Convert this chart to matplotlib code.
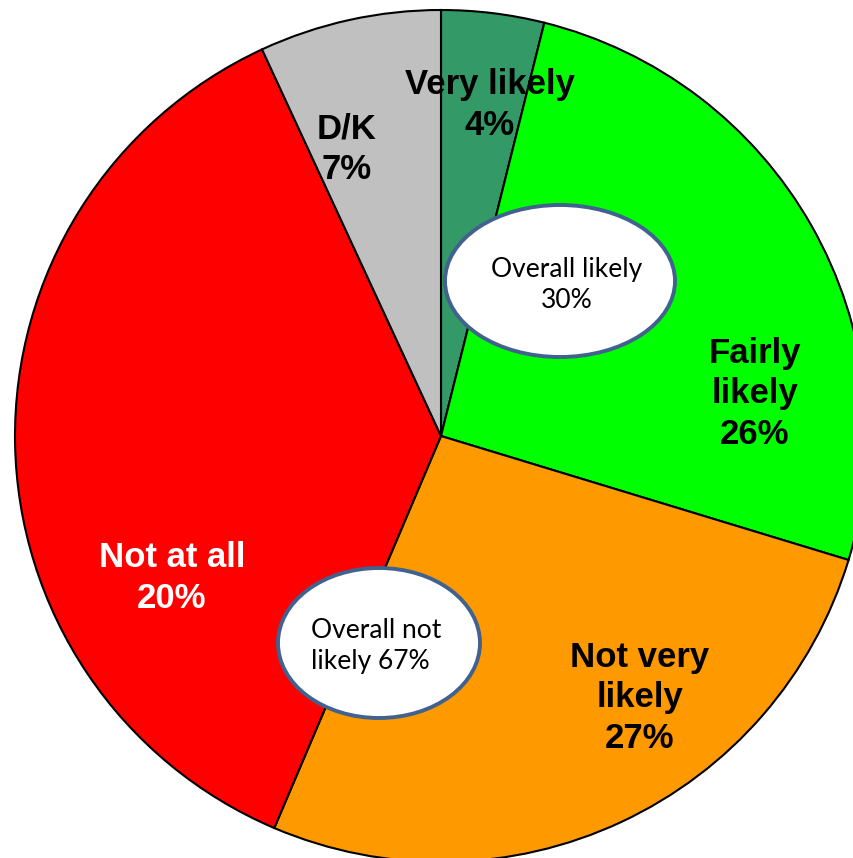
#pie chart of how likely people are, cut off at the right and bottom edges

import matplotlib
matplotlib.use("Agg")
import matplotlib.pyplot as plt
from matplotlib.patches import Ellipse

categories = ["Very likely", "Fairly likely", "Not very likely", "Not at all", "D/K"]
sizes = [3.9, 25.8, 26.7, 36.7, 6.9]
label_texts = ["Very likely\n4%", "Fairly\nlikely\n26%", "Not very\nlikely\n27%", "Not at all\n20%", "D/K\n7%"]
colors = ["#339966", "#00ff00", "#ff9900", "#ff0000", "#c0c0c0"]
text_colors = ["black", "black", "black", "white", "black"]

overall_texts = ["Overall likely\n30%", "Overall not\nlikely 67%"]
overall_align = ["center", "left"]

W, H = 854, 858
fig = plt.figure(figsize=(W / 100, H / 100), dpi=100)
ax = fig.add_axes([0, 0, 1, 1])

cx, cy, r = 441, H - 436, 426
wedges, _ = ax.pie(sizes, colors=colors, startangle=90, counterclock=False,
                   center=(cx, cy), radius=r, frame=True,
                   wedgeprops=dict(edgecolor="black", linewidth=1.5))
ax.set_xlim(0, W)
ax.set_ylim(0, H)
ax.set_aspect("equal")
ax.axis("off")

# label positions (pixels from top-left)
label_pos = [(490, 105), (755, 394), (640, 698), (172, 578), (347, 149)]
for txt, (x, y), c in zip(label_texts, label_pos, text_colors):
    ax.text(x, H - y, txt, ha="center", va="center", fontsize=25, fontweight="bold",
            color=c, family="Liberation Sans", linespacing=1.27)

# the two white ovals, and where their text sits
ovals = [((560, 281), 230, 152), ((379, 643), 202, 150)]
oval_text_pos = [(567, 285), (376, 646)]
for txt, ((x, y), w, h), (tx, ty), al in zip(overall_texts, ovals, oval_text_pos, overall_align):
    ax.add_patch(Ellipse((x, H - y), w, h, facecolor="white", edgecolor="#41628f", linewidth=2.8, zorder=3))
    ax.text(tx, H - ty, txt, ha="center", va="center", fontsize=19, family="Lato",
            color="black", linespacing=1.35, multialignment=al, zorder=4)

fig.savefig("out.png", dpi=100)
